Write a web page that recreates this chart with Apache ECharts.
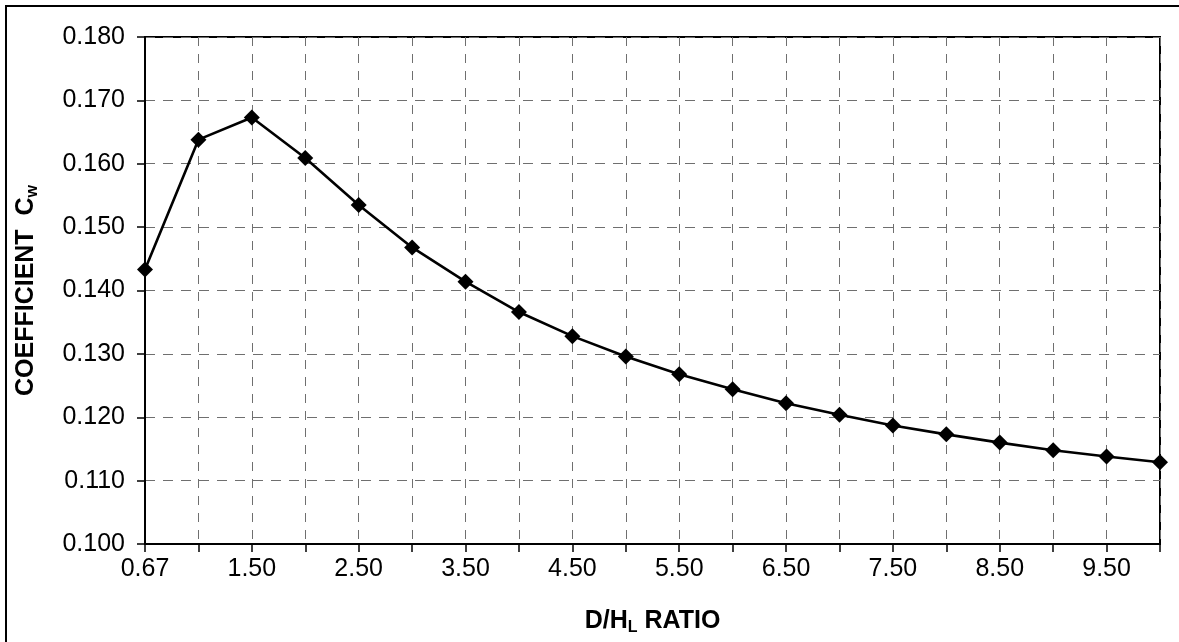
<!DOCTYPE html>
<html>
<head>
<meta charset="utf-8">
<script src="https://cdn.jsdelivr.net/npm/echarts@6/dist/echarts.min.js"></script>
<style>
  html, body { margin: 0; padding: 0; background: #ffffff; }
  #chart { width: 1179px; height: 642px; }
</style>
</head>
<body>
<div id="chart"></div>
<script>
// D/H_L ratio categories (every other one is labelled on the axis)
const ratios = ['0.67', '1.00', '1.50', '2.00', '2.50', '3.00', '3.50', '4.00', '4.50', '5.00',
                '5.50', '6.00', '6.50', '7.00', '7.50', '8.00', '8.50', '9.00', '9.50', '10.00'];

// Coefficient C_w at each ratio
const coefficients = [0.1433, 0.1638, 0.1673, 0.1609, 0.1535, 0.1468, 0.1414, 0.1366, 0.1328, 0.1296,
                      0.1268, 0.1244, 0.1222, 0.1204, 0.1187, 0.1173, 0.1160, 0.1148, 0.1138, 0.1129];

// Value axis range
const yMin = 0.100;
const yMax = 0.180;
const yStep = 0.010;

const chart = echarts.init(document.getElementById('chart'), null, { renderer: 'canvas' });

const font = '"Liberation Sans", Arial, sans-serif';

const titleRich = {
  m: { fontFamily: font, fontWeight: 'bold', fontSize: 25, color: '#000' },
  s: { fontFamily: font, fontWeight: 'bold', fontSize: 16, color: '#000', padding: [14, 0, 0, 0] }
};

chart.setOption({
  animation: false,
  backgroundColor: '#ffffff',
  graphic: [{
    type: 'rect',
    shape: { x: 6, y: 6, width: 1400, height: 900 },
    style: { fill: 'none', stroke: '#000000', lineWidth: 2 },
    silent: true
  }],
  grid: {
    left: 145, right: 19, top: 37, bottom: 98,
    show: true,
    borderColor: '#000000',
    borderWidth: 2,
    backgroundColor: 'transparent'
  },
  xAxis: {
    type: 'category',
    data: ratios,
    boundaryGap: false,
    name: '{m|D/H}{s|L}{m| RATIO}',
    nameLocation: 'middle',
    nameGap: 62,
    nameTextStyle: { rich: titleRich },
    axisLine: { show: true, lineStyle: { color: '#000000', width: 2 } },
    axisTick: { show: true, interval: 0, length: 8, lineStyle: { color: '#000000', width: 1.5 } },
    axisLabel: {
      interval: 1,
      margin: 13,
      fontFamily: font,
      fontSize: 25,
      color: '#000000'
    },
    splitLine: {
      show: true,
      interval: 0,
      lineStyle: { color: '#6f6f6f', width: 1, type: [9, 8] }
    }
  },
  yAxis: {
    type: 'value',
    min: yMin,
    max: yMax,
    interval: yStep,
    name: '{m|COEFFICIENT  C}{s|w}',
    nameLocation: 'middle',
    nameRotate: 90,
    nameGap: 104,
    nameTextStyle: { rich: titleRich },
    axisLine: { show: true, lineStyle: { color: '#000000', width: 2 } },
    axisTick: { show: true, length: 8, lineStyle: { color: '#000000', width: 1.5 } },
    axisLabel: {
      margin: 20,
      fontFamily: font,
      fontSize: 25,
      color: '#000000',
      formatter: v => v.toFixed(3)
    },
    splitLine: {
      show: true,
      lineStyle: { color: '#6f6f6f', width: 1, type: [10, 8] }
    }
  },
  series: [{
    type: 'line',
    data: coefficients,
    symbol: 'diamond',
    symbolSize: 16,
    itemStyle: { color: '#000000' },
    lineStyle: { color: '#000000', width: 2.6 },
    clip: false
  }]
});
</script>
</body>
</html>
